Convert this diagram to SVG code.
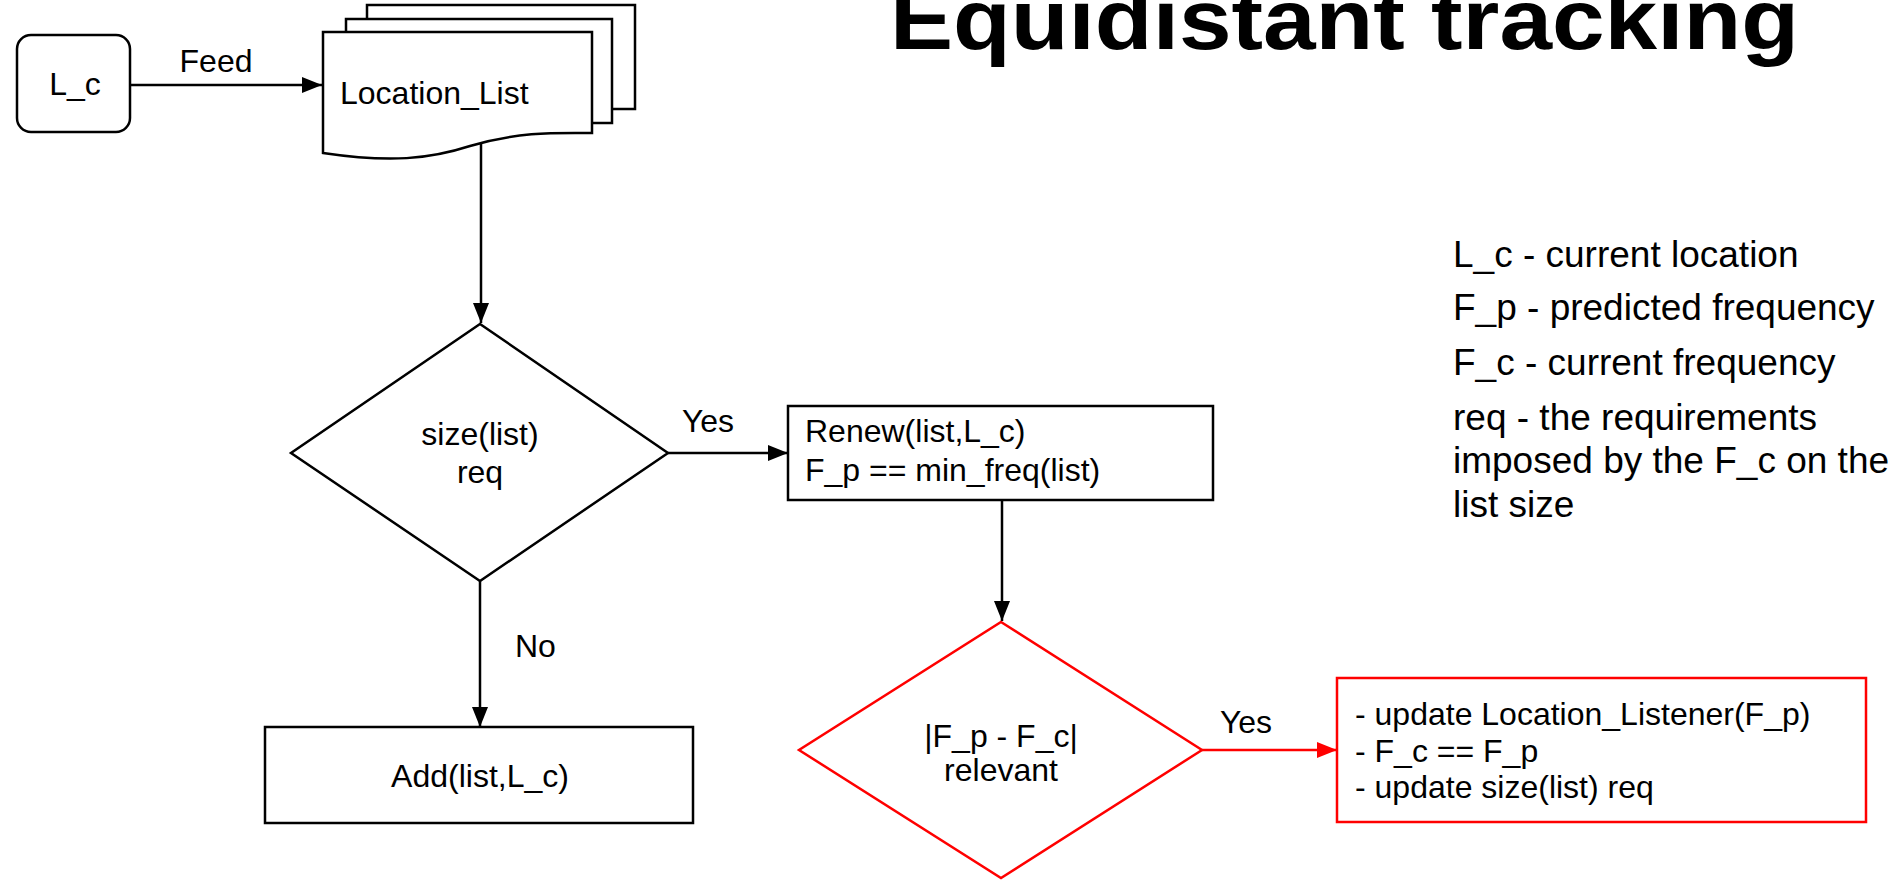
<svg xmlns="http://www.w3.org/2000/svg" width="1899" height="880" viewBox="0 0 1899 880">
<style>
.t{font-family:"Liberation Sans",Arial,sans-serif;font-size:32px;fill:#000}
.lg{font-family:"Liberation Sans",Arial,sans-serif;font-size:37px;fill:#000}
.sh{fill:#fff;stroke:#000;stroke-width:2.5}
.rd{fill:#fff;stroke:#ff0000;stroke-width:2.5}
.ln{fill:none;stroke:#000;stroke-width:2.5}
.lr{fill:none;stroke:#ff0000;stroke-width:2.5}
</style>
<defs>
<marker id="ab" markerUnits="userSpaceOnUse" markerWidth="20" markerHeight="16" refX="20" refY="8" orient="auto"><path d="M0,0 L20,8 L0,16 z" fill="#000"/></marker>
<marker id="ar" markerUnits="userSpaceOnUse" markerWidth="20" markerHeight="16" refX="20" refY="8" orient="auto"><path d="M0,0 L20,8 L0,16 z" fill="#ff0000"/></marker>
</defs>
<rect width="1899" height="880" fill="#fff"/>
<text x="890" y="49" font-family="Liberation Sans,Arial,sans-serif" font-weight="bold" font-size="86" textLength="909" lengthAdjust="spacingAndGlyphs">Equidistant tracking</text>
<g id="connectors">
<line class="ln" x1="130" y1="85" x2="322" y2="85" marker-end="url(#ab)"/>
<text class="t" x="216" y="72" text-anchor="middle">Feed</text>
<line class="ln" x1="481" y1="144" x2="481" y2="323" marker-end="url(#ab)"/>
<line class="ln" x1="668" y1="453" x2="788" y2="453" marker-end="url(#ab)"/>
<text class="t" x="708" y="432" text-anchor="middle">Yes</text>
<line class="ln" x1="480" y1="581" x2="480" y2="727" marker-end="url(#ab)"/>
<text class="t" x="515" y="657">No</text>
<line class="ln" x1="1002" y1="500" x2="1002" y2="621" marker-end="url(#ab)"/>
<line class="lr" x1="1202" y1="750" x2="1337" y2="750" marker-end="url(#ar)"/>
<text class="t" x="1246" y="733" text-anchor="middle">Yes</text>
</g>
<g id="lc">
<rect class="sh" x="17" y="35" width="113" height="97" rx="14"/>
<text class="t" x="75" y="95" text-anchor="middle">L_c</text>
</g>
<g id="location-list">
<rect class="sh" x="367" y="5" width="268" height="104"/>
<rect class="sh" x="346" y="19" width="266" height="104"/>
<path class="sh" d="M323,32 H592 V133 C560,133 520,131 470,146 C430,159 390,163 323,153 Z"/>
<text class="t" x="340" y="104">Location_List</text>
</g>
<g id="decision1">
<polygon class="sh" points="480,324 668,453 480,581 291,453"/>
<text class="t" x="480" y="445" text-anchor="middle">size(list)</text>
<text class="t" x="480" y="483" text-anchor="middle">req</text>
</g>
<g id="renew">
<rect class="sh" x="788" y="406" width="425" height="94"/>
<text class="t" x="805" y="442">Renew(list,L_c)</text>
<text class="t" x="805" y="481">F_p == min_freq(list)</text>
</g>
<g id="add">
<rect class="sh" x="265" y="727" width="428" height="96"/>
<text class="t" x="480" y="787" text-anchor="middle">Add(list,L_c)</text>
</g>
<g id="decision2">
<polygon class="rd" points="1001,622 1202,750 1001,878 799,750"/>
<text class="t" x="1001" y="747" text-anchor="middle" font-size="30">|F_p - F_c|</text>
<text class="t" x="1001" y="781" text-anchor="middle" font-size="30">relevant</text>
</g>
<g id="update">
<rect class="rd" x="1337" y="678" width="529" height="144"/>
<text class="t" x="1355" y="725">- update Location_Listener(F_p)</text>
<text class="t" x="1355" y="762">- F_c == F_p</text>
<text class="t" x="1355" y="798">- update size(list) req</text>
</g>
<g id="legend">
<text class="lg" x="1453" y="267">L_c - current location</text>
<text class="lg" x="1453" y="320">F_p - predicted frequency</text>
<text class="lg" x="1453" y="375">F_c - current frequency</text>
<text class="lg" x="1453" y="430">req - the requirements</text>
<text class="lg" x="1453" y="473">imposed by the F_c on the</text>
<text class="lg" x="1453" y="517">list size</text>
</g>
</svg>
